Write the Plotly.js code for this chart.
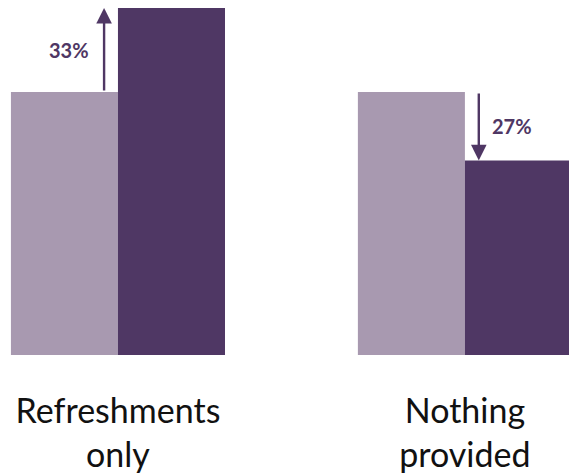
<!DOCTYPE html>
<html>
<head>
<meta charset="utf-8">
<script src="https://cdn.plot.ly/plotly-3.0.1.min.js"></script>
<style>html,body{margin:0;padding:0;background:#fff;}#chart{width:569px;height:475px;}</style>
</head>
<body>
<div id="chart"></div>
<script>
var categories = ["Refreshments<br>only", "Nothing<br>provided"];
var baselineValues = [100, 100];
var newValues = [132, 74];
var changeLabels = ["33%", "27%"];

var lightColor = "#a899b0";
var darkColor = "#4f3764";

var traces = [
  {type: "bar", x: [0, 1], y: baselineValues, marker: {color: lightColor}, hoverinfo: "skip", showlegend: false},
  {type: "bar", x: [0, 1], y: newValues, marker: {color: darkColor}, hoverinfo: "skip", showlegend: false}
];

var arrowOffset = [-0.04, 0.04];
var textOffset = [-0.14, 0.135];
var annotations = [];
for (var i = 0; i < categories.length; i++) {
  annotations.push({
    x: i + arrowOffset[i], y: newValues[i], xref: "x", yref: "y",
    ax: i + arrowOffset[i], ay: baselineValues[i], axref: "x", ayref: "y",
    showarrow: true, arrowhead: 2, arrowsize: 1.3, arrowwidth: 2.4, arrowcolor: darkColor,
    text: "", standoff: 0, startstandoff: 0
  });
  annotations.push({
    x: i + textOffset[i], y: (baselineValues[i] + newValues[i]) / 2, xref: "x", yref: "y",
    text: "<b>" + changeLabels[i] + "</b>", showarrow: false,
    font: {family: "Lato, 'Open Sans', sans-serif", size: 20, color: darkColor}
  });
}

var layout = {
  width: 569, height: 475,
  margin: {l: 0, r: 0, t: 0, b: 120, pad: 0},
  paper_bgcolor: "#fff", plot_bgcolor: "#fff",
  barmode: "group", bargap: 0.383, bargroupgap: 0,
  xaxis: {
    range: [-0.34, 1.3], tickmode: "array", tickvals: [0, 1], ticktext: categories,
    showgrid: false, zeroline: false, showline: false, ticks: "",
    tickfont: {family: "Lato, 'Open Sans', sans-serif", size: 34, color: "#111"},
    ticklabelstandoff: 33
  },
  yaxis: {range: [0, 135], visible: false, showgrid: false, zeroline: false},
  annotations: annotations,
  showlegend: false
};

Plotly.newPlot("chart", traces, layout, {staticPlot: true, displayModeBar: false});
</script>
</body>
</html>
